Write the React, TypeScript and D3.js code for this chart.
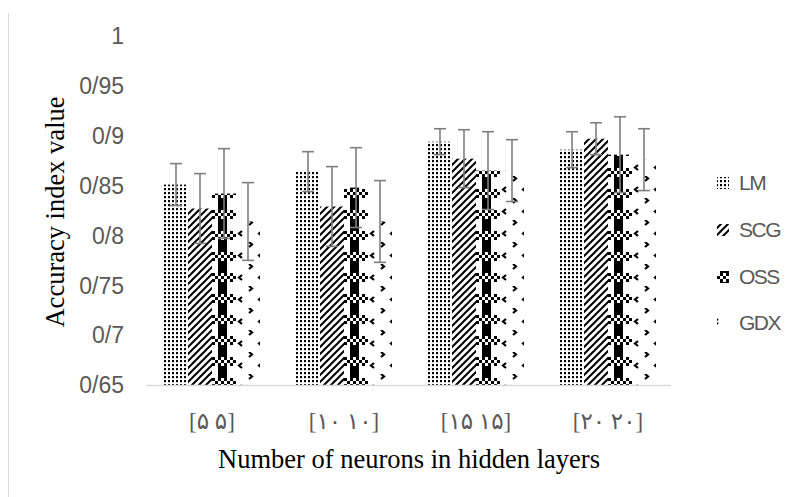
import React from "react";
import * as d3 from "d3";

const categories = ["[۵ ۵]", "[۱۰ ۱۰]", "[۱۵ ۱۵]", "[۲۰ ۲۰]"];
const seriesNames = ["LM", "SCG", "OSS", "GDX"];
const lmValues = [0.851, 0.864, 0.894, 0.886];
const lmErrors = [0.021, 0.02, 0.013, 0.018];
const scgValues = [0.827, 0.829, 0.877, 0.897];
const scgErrors = [0.035, 0.04, 0.029, 0.016];
const ossValues = [0.842, 0.848, 0.865, 0.881];
const ossErrors = [0.045, 0.04, 0.039, 0.038];
const gdxValues = [0.814, 0.814, 0.865, 0.876];
const gdxErrors = [0.039, 0.041, 0.031, 0.031];
const yTicks = [0.65, 0.7, 0.75, 0.8, 0.85, 0.9, 0.95, 1];
const yTickLabels = ["0/65", "0/7", "0/75", "0/8", "0/85", "0/9", "0/95", "1"];
const xTitle = "Number of neurons in hidden layers";
const yTitle = "Accuracy index value";

const seriesValues = [lmValues, scgValues, ossValues, gdxValues];
const seriesErrors = [lmErrors, scgErrors, ossErrors, gdxErrors];
const patternIds = ["patLM", "patSCG", "patOSS", "patGDX"];

const W = 788;
const H = 497;
const plotLeft = 146;
const plotRight = 674;
const plotTop = 36;
const plotBottom = 385;

export default function App() {
  const x0 = d3.scaleBand<string>().domain(categories).range([plotLeft, plotRight]).paddingInner(0).paddingOuter(0);
  const groupW = 96;
  const x1 = d3.scaleBand<string>().domain(seriesNames).range([0, groupW]).padding(0);
  const y = d3.scaleLinear().domain([0.65, 1]).range([plotBottom, plotTop]);
  const groupOffset = (x0.bandwidth() - groupW) / 2;

  const checker: React.ReactNode[] = [];
  for (let i = 0; i < 6; i++) {
    for (let j = 0; j < 3; j++) {
      const black = (i + j) % 2 === 0;
      checker.push(
        <rect key={`c${i}-${j}`} x={i * 3} y={j * 3} width={3} height={3} fill={black ? "#000" : "#fff"} />
      );
    }
  }

  const legendY = [183, 230, 277, 323];

  return (
    <svg
      width={W}
      height={H}
      viewBox={`0 0 ${W} ${H}`}
      style={{ position: "absolute", left: 0, top: 0, background: "#fff" }}
    >
      <defs>
        <pattern id="patLM" patternUnits="userSpaceOnUse" width={4} height={4}>
          <rect width={4} height={4} fill="#fff" />
          <rect x={0} y={0} width={2} height={2.2} fill="#000" />
        </pattern>
        <pattern id="patSCG" patternUnits="userSpaceOnUse" width={7} height={7}>
          <rect width={7} height={7} fill="#fff" />
          <path d="M-1,8 L8,-1 M-1,1 L1,-1 M6,8 L8,6" stroke="#000" strokeWidth={2} />
        </pattern>
        <pattern id="patOSS" patternUnits="userSpaceOnUse" width={18} height={21}>
          <rect width={18} height={21} fill="#fff" />
          <rect x={0} y={0} width={9} height={21} fill="#000" />
          {checker}
        </pattern>
        <pattern id="patGDX" patternUnits="userSpaceOnUse" width={20} height={22}>
          <rect width={20} height={22} fill="#fff" />
          <path d="M5,0 L8,2.5 L5,5" stroke="#000" strokeWidth={2.2} fill="none" />
          <path d="M18,11 L15,13.5 L18,16" stroke="#000" strokeWidth={2.2} fill="none" />
        </pattern>
      </defs>

      <rect width={W} height={H} fill="#fff" />
      <line x1={8.5} x2={8.5} y1={13} y2={H} stroke="#d9d9d9" strokeWidth={1} />

      {/* bars */}
      {categories.map((cat, ci) => (
        <g key={cat} transform={`translate(${(x0(cat) ?? 0) + groupOffset},0)`}>
          {seriesNames.map((s, si) => {
            const v = seriesValues[si][ci];
            const bx = x1(s) ?? 0;
            return (
              <rect
                key={s}
                x={bx}
                y={y(v)}
                width={x1.bandwidth()}
                height={y(0.65) - y(v)}
                fill={`url(#${patternIds[si]})`}
              />
            );
          })}
        </g>
      ))}

      {/* axis line */}
      <line x1={plotLeft} x2={plotRight - 3} y1={plotBottom + 0.5} y2={plotBottom + 0.5} stroke="#d9d9d9" strokeWidth={1.5} />

      {/* error bars */}
      {categories.map((cat, ci) => (
        <g key={cat + "e"} transform={`translate(${(x0(cat) ?? 0) + groupOffset},0)`}>
          {seriesNames.map((s, si) => {
            const v = seriesValues[si][ci];
            const e = seriesErrors[si][ci];
            const cx = (x1(s) ?? 0) + x1.bandwidth() / 2;
            return (
              <g key={s} stroke="#7f7f7f" strokeWidth={1.6}>
                <line x1={cx} x2={cx} y1={y(v + e)} y2={y(v - e)} />
                <line x1={cx - 6} x2={cx + 6} y1={y(v + e)} y2={y(v + e)} />
                <line x1={cx - 6} x2={cx + 6} y1={y(v - e)} y2={y(v - e)} />
              </g>
            );
          })}
        </g>
      ))}

      {/* y tick labels */}
      {yTicks.map((t, i) => (
        <text
          key={t}
          x={124}
          y={y(t)}
          dy="0.36em"
          textAnchor="end"
          fontFamily="'Liberation Sans', Arial, sans-serif"
          fontSize={23}
          fill="#595959"
        >
          {yTickLabels[i]}
        </text>
      ))}

      {/* x tick labels */}
      {categories.map((cat) => (
        <text
          key={cat + "l"}
          x={(x0(cat) ?? 0) + x0.bandwidth() / 2}
          y={421}
          dy="0.35em"
          textAnchor="middle"
          fontFamily="'Liberation Serif', 'DejaVu Sans', serif"
          fontSize={23}
          fill="#595959"
        >
          {cat}
        </text>
      ))}

      {/* titles */}
      <text
        x={409}
        y={468}
        textAnchor="middle"
        fontFamily="'Liberation Serif', 'Times New Roman', serif"
        fontSize={26.5}
        fill="#000"
      >
        {xTitle}
      </text>
      <text
        transform={`translate(64,212) rotate(-90)`}
        textAnchor="middle"
        fontFamily="'Liberation Serif', 'Times New Roman', serif"
        fontSize={26.5}
        fill="#000"
      >
        {yTitle}
      </text>

      {/* legend */}
      {seriesNames.map((s, i) => (
        <g key={s + "lg"}>
          <rect x={717} y={legendY[i] - 6} width={12} height={12} fill={`url(#${patternIds[i]})`} />
          <text
            x={739}
            y={legendY[i]}
            dy="0.35em"
            fontFamily="'Liberation Sans', Arial, sans-serif"
            fontSize={21}
            letterSpacing={-1.5}
            fill="#595959"
          >
            {s}
          </text>
        </g>
      ))}
    </svg>
  );
}
